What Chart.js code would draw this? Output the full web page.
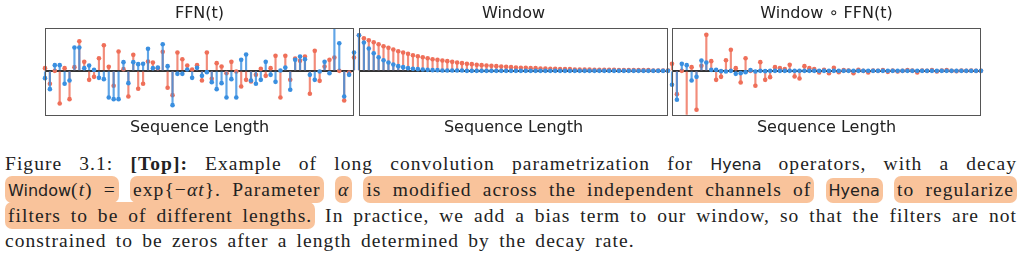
<!DOCTYPE html>
<html>
<head>
<meta charset="utf-8">
<script src="https://cdn.jsdelivr.net/npm/chart.js@4.4.1/dist/chart.umd.min.js"></script>
<style>
  body { margin: 0; background: #fff; width: 1024px; height: 261px; overflow: hidden; position: relative; }
  .panel { position: absolute; top: 0; width: 320px; height: 140px; }
  #caption { position: absolute; left: 5px; top: 151px; width: 1012px; font-family: "Liberation Serif", serif; font-size: 19.5px; letter-spacing: 1.05px; word-spacing: 3.3px; line-height: 25px; color: #222; }
  .line { text-align: justify; text-align-last: justify; white-space: nowrap; }
  .line.last { text-align-last: left; }
  .sf { font-family: "DejaVu Sans", sans-serif; font-size: 16px; letter-spacing: 0; }
  .hl { background: #f9c39b; border-radius: 7px; padding: 3px 3px; }
</style>
</head>
<body>
<div class="panel" style="left:40px"><canvas id="ffnChart"></canvas></div>
<div class="panel" style="left:354px"><canvas id="windowChart"></canvas></div>
<div class="panel" style="left:667px"><canvas id="productChart"></canvas></div>

<div id="caption">
  <div class="line">Figure 3.1: <b>[Top]:</b> Example of long convolution parametrization for <span class="sf">Hyena</span> operators, with a decay</div>
  <div class="line"><span class="hl"><span class="sf">Window</span>(<i>t</i>) =</span> <span class="hl">exp{−<i>αt</i>}. Parameter</span> <span class="hl"><i>α</i></span> <span class="hl">is modified across the independent channels of</span> <span class="hl sf">Hyena</span> <span class="hl">to regularize</span></div>
  <div class="line"><span class="hl">filters to be of different lengths.</span> In practice, we add a bias term to our window, so that the filters are not</div>
  <div class="line last">constrained to be zeros after a length determined by the decay rate.</div>
</div>

<script>
const steps = Array.from({ length: 64 }, (_, i) => i);

const ffnRed = [8, -39, 0, -98, 8, -85, 11, 89, 27, -27, -18, 38, 77, 12, -45, 58,
  5, -77, 48, -54, -39, 28, 25, 8, 57, -51, -73, 55, 35, 16, 4, 17,
  -29, 55, -24, 23, 13, -7, 27, -2, -47, -27, -32, -12, 6, -15, 8, 45,
  -80, 45, -27, 37, 30, 43, -69, 60, -30, 13, 33, 40, 0, -89, -5, 40];
const ffnBlue = [-22, -55, 17, 17, -39, -29, 70, 70, 8, 16, 3, -21, -25, -80, -85, -85,
  26, -37, 26, 20, 21, 66, 8, 10, 80, 14, -103, -9, -9, 4, -21, 9,
  -15, -4, -34, -55, -37, -80, -25, -80, 33, 49, -29, -39, -27, 27, -12, -33,
  1, 10, -57, 33, 43, 35, -12, -27, -2, 27, -7, 150, 83, -77, -12, 55];

const windowRed = [107, 98, 92, 86, 80, 74, 69, 64, 59, 55, 51, 47, 44, 41, 38, 35,
  33, 31, 29, 27, 25, 23, 21, 20, 18, 17, 16, 15, 14, 13, 12, 11,
  10, 9, 9, 8, 8, 7, 7, 6, 6, 5, 5, 5, 4, 4, 4, 4,
  3, 3, 3, 3, 3, 2, 2, 2, 2, 2, 2, 2, 1, 1, 1, 1];
const windowBlue = [107, 85, 67, 53, 41, 32, 25, 19, 14, 11, 8, 6, 5, 4, 3, 2,
  2, 1, 1, 1, 1, 1, 0, 0, 0, 0, 0, 0, 0, 0, 0, 0,
  0, 0, 0, 0, 0, 0, 0, 0, 0, 0, 0, 0, 0, 0, 0, 0,
  0, 0, 0, 0, 0, 0, 0, 0, 0, 0, 0, 0, 0, 0, 0, 0];

const productRed = [21, -70, 0, -140, 11, -117, 15, 108, 29, -27, -18, 32, 63, 8, -35, 38,
  0, -45, 26, -27, -19, 11, 8, 5, 18, -17, -23, 14, 8, 5, -5, 3,
  -7, 9, -4, 2, 1, -7, 3, 0, -5, 1, 0, 2, -3, 1, -2, 0,
  2, 1, -5, 1, 0, 2, -2, 1, 2, 0, -1, 1, 0, 1, 0, 0];
const productBlue = [-42, -87, 21, 17, -29, -18, 31, 25, 3, 3, -1, -2, 0, -9, -7, -4,
  2, -2, 0, -1, 0, 0, 0, 0, 0, 0, 0, 0, 0, 0, 0, 0,
  0, 0, 0, 0, 0, 0, 0, 0, 0, 0, 0, 0, 0, 0, 0, 0,
  0, 0, 0, 0, 0, 0, 0, 0, 0, 0, 0, 0, 0, 0, 0, 0];

const RED = "#ef6f59";
const BLUE = "#3a8fe0";
const clipBox = { left: 5, right: 5, top: 0, bottom: 0 };

// box around the plot area, like axes spines
const frame = {
  id: "frame",
  afterDraw(chart) {
    const a = chart.chartArea;
    const ctx = chart.ctx;
    ctx.save();
    ctx.strokeStyle = "#555";
    ctx.lineWidth = 1;
    ctx.strokeRect(Math.round(a.left) + 0.5, Math.round(a.top) + 0.5,
      Math.round(a.right - a.left) - 1, Math.round(a.bottom - a.top));
    ctx.restore();
  }
};

function stems(values, color, order) {
  return { type: "bar", data: values, backgroundColor: color, barThickness: 1.5,
    grouped: false, order: order, clip: clipBox };
}

function markers(values, color, order) {
  return { type: "line", data: values, showLine: false, pointRadius: 2.3,
    pointBackgroundColor: color, pointBorderWidth: 0, order: order, clip: clipBox };
}

function drawPanel(id, title, red, blue) {
  const ctx = document.getElementById(id).getContext("2d");
  new Chart(ctx, {
    type: "bar",
    data: {
      labels: steps,
      datasets: [
        stems(red, "rgba(239,111,89,0.8)", 4),
        markers(red, RED, 3),
        stems(blue, "rgba(58,143,224,0.8)", 2),
        markers(blue, BLUE, 1)
      ]
    },
    options: {
      responsive: true,
      maintainAspectRatio: false,
      animation: false,
      layout: { padding: { left: 5, right: 6, top: 0, bottom: 0 } },
      plugins: {
        legend: { display: false },
        tooltip: { enabled: false },
        title: {
          display: true,
          text: title,
          color: "#222",
          font: { family: "DejaVu Sans", size: 16, weight: "normal" },
          padding: { top: 4, bottom: 5 }
        }
      },
      scales: {
        x: {
          offset: false,
          grid: { display: false, drawTicks: false },
          border: { display: false },
          ticks: { display: false },
          title: {
            display: true,
            text: "Sequence Length",
            color: "#222",
            font: { family: "DejaVu Sans", size: 16 },
            padding: { top: 3, bottom: 3 }
          }
        },
        y: {
          min: -132,
          max: 128,
          border: { display: false },
          ticks: { display: false, stepSize: 50 },
          grid: {
            drawTicks: false,
            lineWidth: 2,
            color: (c) => (c.tick && c.tick.value === 0 ? "#333" : "rgba(0,0,0,0)")
          }
        }
      }
    },
    plugins: [frame]
  });
}

drawPanel("ffnChart", "FFN(t)", ffnRed, ffnBlue);
drawPanel("windowChart", "Window", windowRed, windowBlue);
drawPanel("productChart", "Window ∘ FFN(t)", productRed, productBlue);
</script>
</body>
</html>
